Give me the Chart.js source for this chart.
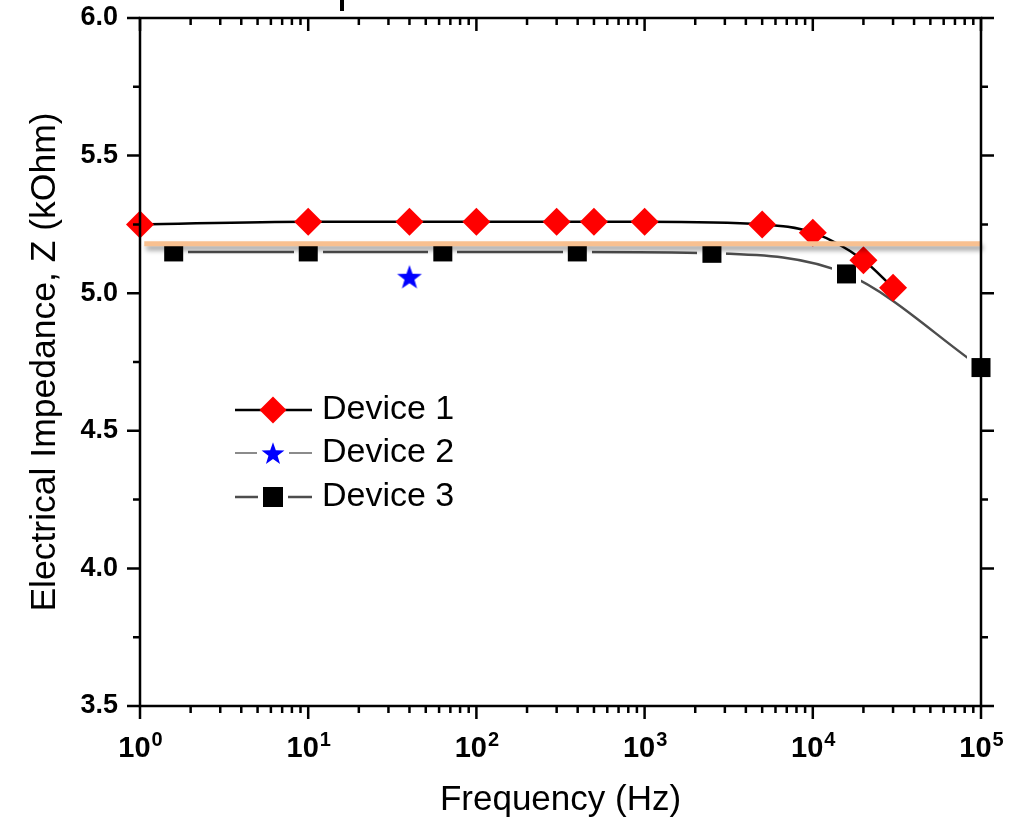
<!DOCTYPE html>
<html>
<head>
<meta charset="utf-8">
<title>Electrical impedance vs frequency</title>
<script src="https://cdn.jsdelivr.net/npm/chart.js@4.4.1/dist/chart.umd.min.js"></script>
<style>
  html, body { margin: 0; padding: 0; background: #fff; }
  #wrap { width: 1025px; height: 822px; }
</style>
</head>
<body>
<div id="wrap"><canvas id="chart" width="1025" height="822"></canvas></div>
<script>
// Impedance readings (frequency in Hz, Z in kOhm)
const device1Freq = [1, 10, 40, 100, 300, 500, 1000, 5000, 10000, 20000, 30000];
const device1Z    = [5.25, 5.26, 5.26, 5.26, 5.26, 5.26, 5.26, 5.25, 5.22, 5.12, 5.02];
const device2Freq = [40];
const device2Z    = [5.06];
const device3Freq = [1.585, 10, 63.1, 398, 2512, 15849, 100000];
const device3Z    = [5.15, 5.15, 5.15, 5.15, 5.145, 5.07, 4.73];
// flat reference level across the band
const levelFreq = [1.06, 100000];
const levelZ    = [5.18, 5.18];

const yMin = 3.5, yMax = 6.0, yStep = 0.5;
const xDecades = [0, 1, 2, 3, 4, 5];
const legendNames = ['Device 1', 'Device 2', 'Device 3'];

const FONT = "'Liberation Sans', Arial, sans-serif";
const pts = (xs, ys) => xs.map((x, i) => ({ x: x, y: ys[i] }));

// filled five point star used as a point style
function starImage(r, color) {
  const s = Math.ceil(r * 2) + 2;
  const c = document.createElement('canvas');
  c.width = s; c.height = s;
  const g = c.getContext('2d');
  const cx = s / 2, cy = s / 2 + r * 0.1;
  g.fillStyle = color;
  g.beginPath();
  for (let i = 0; i < 10; i++) {
    const rr = i % 2 ? r * 0.4 : r;
    const a = -Math.PI / 2 + i * Math.PI / 5;
    g.lineTo(cx + rr * Math.cos(a), cy + rr * Math.sin(a));
  }
  g.closePath();
  g.fill();
  return c;
}

// black square with a white margin so the line stops short of it
function squareImage(side, gap) {
  const s = side + gap * 2;
  const c = document.createElement('canvas');
  c.width = s; c.height = s;
  const g = c.getContext('2d');
  g.fillStyle = '#fff';
  g.fillRect(0, 0, s, s);
  g.fillStyle = '#000';
  g.fillRect(gap, gap, side, side);
  return c;
}

const star = starImage(13, '#0000ff');
const legendStar = starImage(12, '#0000ff');
const square = squareImage(19, 5);

// orange level line gets a soft drop shadow
const shadowPlugin = {
  id: 'levelShadow',
  beforeDatasetDraw(chart, args) {
    if (args.index !== 0) return;
    const ctx = chart.ctx;
    ctx.save();
    ctx.shadowColor = 'rgba(0,0,0,0.4)';
    ctx.shadowBlur = 5;
    ctx.shadowOffsetX = 2;
    ctx.shadowOffsetY = 4;
  },
  afterDatasetDraw(chart, args) {
    if (args.index !== 0) return;
    chart.ctx.restore();
  }
};

// boxed frame with ticks on all four sides
const framePlugin = {
  id: 'frame',
  afterDatasetsDraw(chart) {
    const ctx = chart.ctx;
    const { left, right, top, bottom } = chart.chartArea;
    const xs = chart.scales.x, ys = chart.scales.y;
    ctx.save();
    ctx.strokeStyle = '#000';
    ctx.lineWidth = 2.5;
    ctx.lineCap = 'square';
    ctx.beginPath();
    ctx.rect(left, top, right - left, bottom - top);
    ctx.stroke();
    ctx.lineCap = 'butt';
    ctx.beginPath();
    for (let v = yMin; v <= yMax + 1e-9; v += yStep / 2) {
      const py = ys.getPixelForValue(v);
      const major = Math.abs(v / yStep - Math.round(v / yStep)) < 1e-6;
      const len = major ? 13 : 7;
      ctx.moveTo(left - len, py); ctx.lineTo(left, py);
      ctx.moveTo(right, py); ctx.lineTo(right + len, py);
    }
    xDecades.forEach(d => {
      const last = d === xDecades[xDecades.length - 1];
      for (let m = 1; m <= (last ? 1 : 9); m++) {
        const px = xs.getPixelForValue(m * Math.pow(10, d));
        const len = m === 1 ? 13 : 7;
        ctx.moveTo(px, bottom); ctx.lineTo(px, bottom + len);
        ctx.moveTo(px, top); ctx.lineTo(px, top + len);
      }
    });
    ctx.stroke();
    // stub of the label sitting above the frame
    ctx.fillStyle = '#000';
    ctx.fillRect(340, 0, 4, 11);
    ctx.restore();
  },
  afterDraw(chart) {
    // power-of-ten labels under the frequency axis
    const ctx = chart.ctx;
    const xs = chart.scales.x;
    const base = 'bold 29px ' + FONT, sup = 'bold 20px ' + FONT;
    ctx.save();
    ctx.fillStyle = '#000';
    ctx.textBaseline = 'alphabetic';
    ctx.textAlign = 'left';
    xDecades.forEach(d => {
      const px = xs.getPixelForValue(Math.pow(10, d));
      ctx.font = base;
      const wb = ctx.measureText('10').width;
      ctx.font = sup;
      const ws = ctx.measureText(String(d)).width;
      const x0 = px - (wb + ws) / 2;
      ctx.font = base;
      ctx.fillText('10', x0, 757);
      ctx.font = sup;
      ctx.fillText(String(d), x0 + wb + 1, 746);
    });
    ctx.restore();
  }
};

// legend inside the plot: line sample, marker, name
const legendPlugin = {
  id: 'insideLegend',
  afterDraw(chart) {
    const ctx = chart.ctx;
    const rows = [
      { y: 410, color: '#000', width: 2.5, gap: 0, marker: { pointStyle: 'rectRot', radius: 13.5, fill: '#ff0000' } },
      { y: 453, color: '#666', width: 1.5, gap: 16, marker: { pointStyle: legendStar, radius: 12 } },
      { y: 497, color: '#4d4d4d', width: 2.5, gap: 15, marker: { pointStyle: square, radius: 10 } }
    ];
    const x0 = 235, x1 = 312, xm = 273;
    ctx.save();
    rows.forEach((r, i) => {
      ctx.strokeStyle = r.color;
      ctx.lineWidth = r.width;
      ctx.beginPath();
      if (r.gap) {
        ctx.moveTo(x0, r.y); ctx.lineTo(xm - r.gap, r.y);
        ctx.moveTo(xm + r.gap, r.y); ctx.lineTo(x1, r.y);
      } else {
        ctx.moveTo(x0, r.y); ctx.lineTo(x1, r.y);
      }
      ctx.stroke();
      ctx.fillStyle = r.marker.fill || '#000';
      if (r.marker.pointStyle === square) {
        ctx.fillRect(xm - 10, r.y - 10, 20, 20);
      } else {
        Chart.helpers.drawPoint(ctx, { pointStyle: r.marker.pointStyle, radius: r.marker.radius, rotation: 0, borderWidth: 0 }, xm, r.y);
      }
      ctx.fillStyle = '#000';
      ctx.font = '34px ' + FONT;
      ctx.textBaseline = 'middle';
      ctx.textAlign = 'left';
      ctx.fillText(legendNames[i], 322, r.y);
    });
    ctx.restore();
  }
};

new Chart(document.getElementById('chart'), {
  type: 'line',
  data: {
    datasets: [
      {
        label: 'level',
        data: pts(levelFreq, levelZ),
        borderColor: '#f8c090',
        borderWidth: 5,
        pointRadius: 0,
        order: 0,
        clip: false
      },
      {
        label: legendNames[0],
        data: pts(device1Freq, device1Z),
        borderColor: '#000',
        borderWidth: 2.5,
        cubicInterpolationMode: 'monotone',
        pointStyle: 'rectRot',
        pointRadius: 14,
        pointBackgroundColor: '#ff0000',
        pointBorderWidth: 0,
        order: 1,
        clip: false
      },
      {
        label: legendNames[1],
        data: pts(device2Freq, device2Z),
        showLine: false,
        pointStyle: star,
        pointRadius: 13,
        order: 2,
        clip: false
      },
      {
        label: legendNames[2],
        data: pts(device3Freq, device3Z),
        borderColor: '#4d4d4d',
        borderWidth: 2.5,
        cubicInterpolationMode: 'monotone',
        pointStyle: square,
        pointRadius: 14,
        order: 3,
        clip: false
      }
    ]
  },
  options: {
    responsive: false,
    animation: false,
    layout: { padding: { top: 18, right: 44, left: 0, bottom: 0 } },
    plugins: { legend: { display: false }, tooltip: { enabled: false } },
    scales: {
      x: {
        type: 'logarithmic',
        min: 1,
        max: 100000,
        grid: { display: false },
        border: { display: false },
        ticks: { display: false },
        title: {
          display: true,
          text: 'Frequency (Hz)',
          color: '#000',
          font: { family: FONT, size: 35 },
          padding: { top: 0, bottom: 1 }
        },
        afterFit(scale) { scale.height = 116; }
      },
      y: {
        min: yMin,
        max: yMax,
        grid: { display: false, drawTicks: true, tickLength: 13 },
        border: { display: false },
        ticks: {
          stepSize: yStep,
          padding: 9,
          color: '#000',
          font: { family: FONT, size: 27, weight: 'bold', lineHeight: 1 },
          callback: v => v.toFixed(1)
        },
        title: {
          display: true,
          text: 'Electrical Impedance, Z (kOhm)',
          color: '#000',
          font: { family: FONT, size: 35.5 },
          padding: { top: 24, bottom: 0 }
        },
        afterFit(scale) {
          scale.width = 140;
          scale.paddingTop = 0;
          scale.paddingBottom = 0;
        }
      }
    }
  },
  plugins: [shadowPlugin, framePlugin, legendPlugin]
});
</script>
</body>
</html>
